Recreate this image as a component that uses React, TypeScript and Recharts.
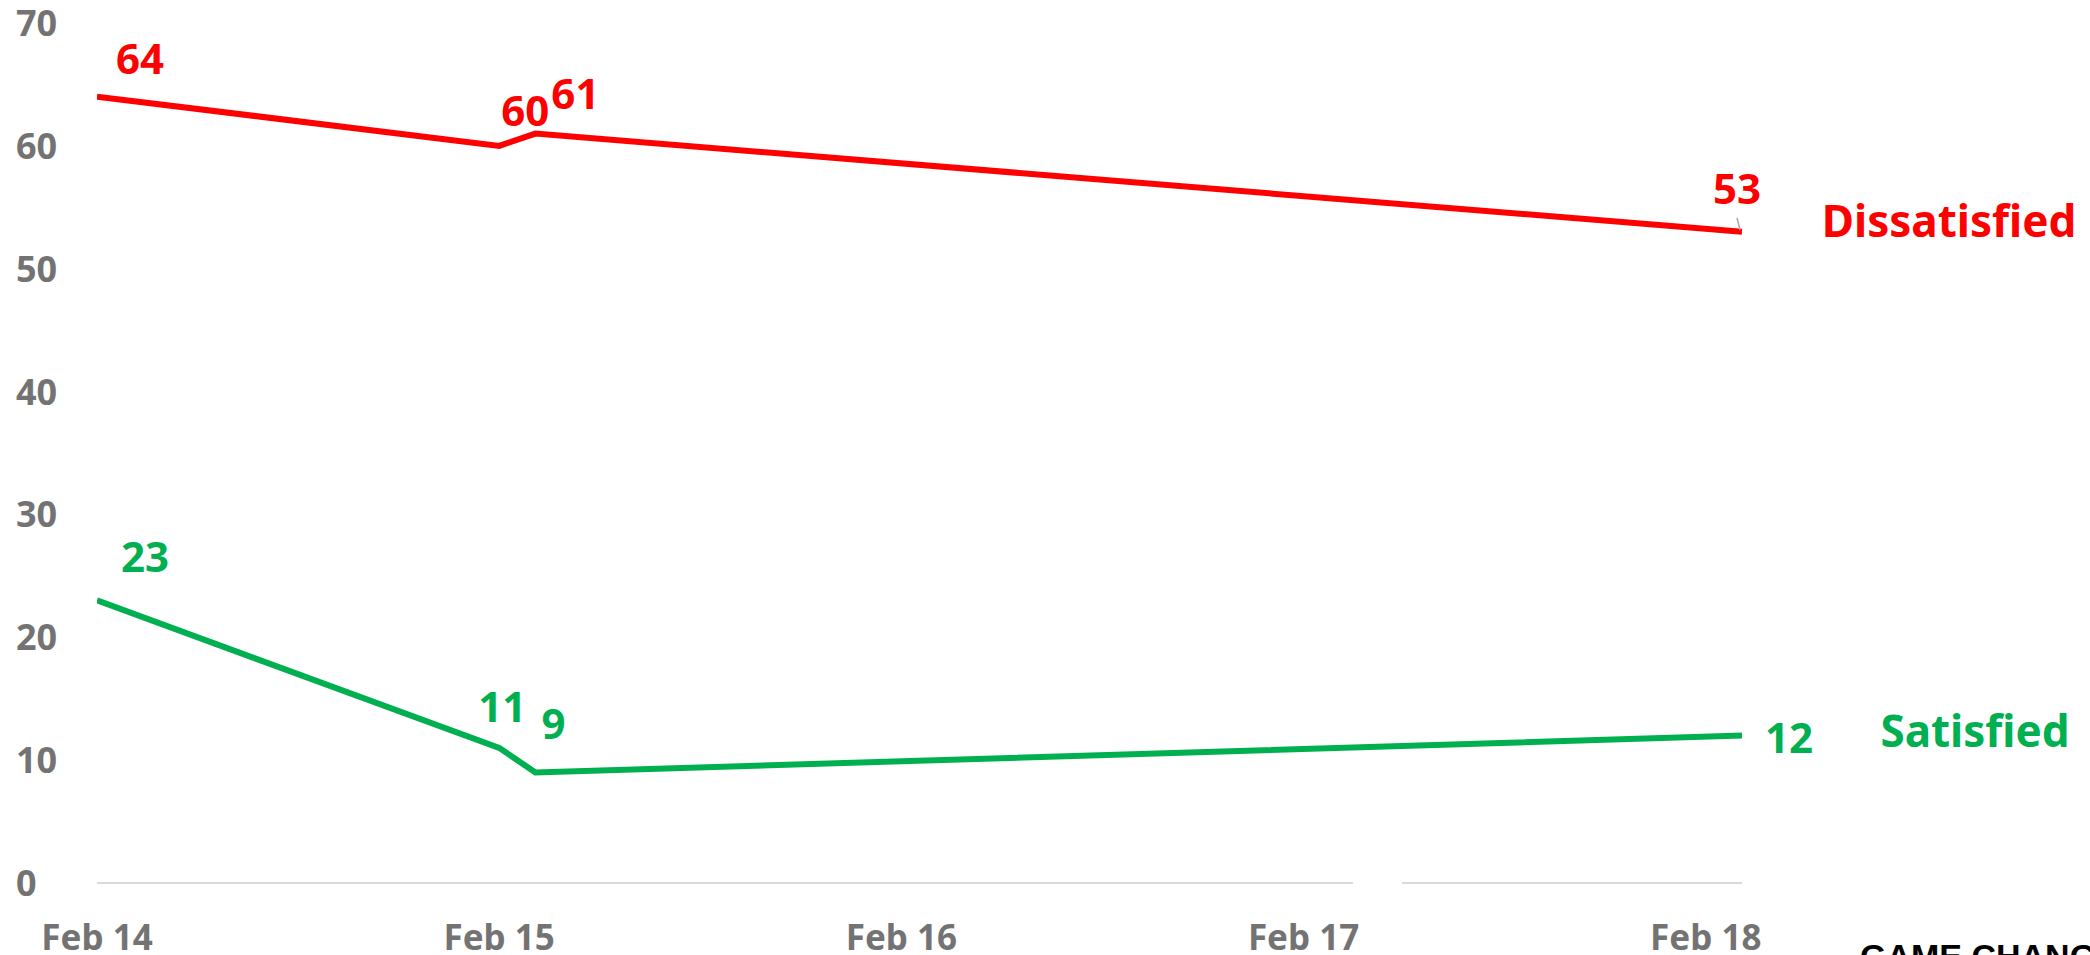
import React from 'react';
import { LineChart, Line, XAxis, YAxis, ReferenceLine, LabelList } from 'recharts';

// ---- data ----
const dayOffsets = [0, 1, 1.09, 4.09]; // days since Feb 14
const dissatisfied = [64, 60, 61, 53];
const satisfied = [23, 11, 9, 12];
const xTicks = [0, 1, 2, 3, 4];
const xTickLabels = ['Feb 14', 'Feb 15', 'Feb 16', 'Feb 17', 'Feb 18'];
const yTicks = [0, 10, 20, 30, 40, 50, 60, 70];
const seriesNames = ['Dissatisfied', 'Satisfied'];
const xDomain = [0, 4.09];
const baselineGap = [3.123, 3.245];

const data = dayOffsets.map((d, i) => ({ d, dis: dissatisfied[i], sat: satisfied[i] }));

// ---- styles ----
const RED = '#FF0000';
const GREEN = '#00B050';
const GRAY = '#737373';
const FONT = '"Noto Sans", "Open Sans", sans-serif';
const disLabelOffsets = [[43, -38], [26, -35], [40, -40], [-5, -43]];
const satLabelOffsets = [[48, -43], [3, -41], [18, -48], [47, 2]];
const disNameOffset = [207, 5];
const satNameOffset = [233, 11];

const makeLabel = (color: string, offsets: number[][], name: string, nameOff: number[], leader: boolean) => (p: any) => {
  const { x, y, value, index } = p;
  const off = offsets[index] || [0, -30];
  const isLast = index === dayOffsets.length - 1;
  return (
    <g>
      <text x={x + off[0]} y={y + off[1] + 15} textAnchor="middle" fill={color}
        style={{ fontFamily: FONT, fontWeight: 700, fontSize: 42 }}>{value}</text>
      {isLast && leader ? (
        <line x1={x - 5} y1={y - 14} x2={x - 2} y2={y - 2} stroke="#A6A6A6" strokeWidth={1.5} />
      ) : null}
      {isLast ? (
        <text x={x + nameOff[0]} y={y + nameOff[1]} textAnchor="middle" fill={color}
          style={{ fontFamily: FONT, fontWeight: 700, fontSize: 44 }}>{name}</text>
      ) : null}
    </g>
  );
};

const YTick = (p: any) => (
  <text x={16} y={p.y + 13} textAnchor="start" fill={GRAY}
    style={{ fontFamily: FONT, fontWeight: 700, fontSize: 36 }}>{p.payload.value}</text>
);

const XTick = (p: any) => {
  const i = xTicks.indexOf(p.payload.value);
  return (
    <text x={p.x} y={950} textAnchor="middle" fill={GRAY}
      style={{ fontFamily: FONT, fontWeight: 700, fontSize: 35 }}>{xTickLabels[i]}</text>
  );
};

export default function App() {
  return (
    <div style={{ position: 'absolute', left: 0, top: 0, width: 2090, height: 955, overflow: 'hidden', background: '#fff' }}>
      <LineChart width={2090} height={955} data={data} margin={{ top: 23, right: 348, bottom: 0, left: 0 }}>
        <XAxis dataKey="d" type="number" domain={xDomain} ticks={xTicks} axisLine={false} tickLine={false}
          height={72} tick={<XTick />} interval={0} allowDataOverflow />
        <YAxis type="number" domain={[0, 70]} ticks={yTicks} axisLine={false} tickLine={false}
          width={97} tick={<YTick />} interval={0} />
        <ReferenceLine segment={[{ x: xDomain[0], y: 0 }, { x: baselineGap[0], y: 0 }]} stroke="#D9D9D9" strokeWidth={2} />
        <ReferenceLine segment={[{ x: baselineGap[1], y: 0 }, { x: xDomain[1], y: 0 }]} stroke="#D9D9D9" strokeWidth={2} />
        <Line type="linear" dataKey="dis" stroke={RED} strokeWidth={6} dot={false} isAnimationActive={false}>
          <LabelList dataKey="dis" content={makeLabel(RED, disLabelOffsets, seriesNames[0], disNameOffset, true)} />
        </Line>
        <Line type="linear" dataKey="sat" stroke={GREEN} strokeWidth={6} dot={false} isAnimationActive={false}>
          <LabelList dataKey="sat" content={makeLabel(GREEN, satLabelOffsets, seriesNames[1], satNameOffset, false)} />
        </Line>
      </LineChart>
      <div style={{ position: 'absolute', left: 1860, top: 936, fontFamily: '"Liberation Sans", Arial, sans-serif', fontWeight: 700, fontSize: 34, color: '#000', whiteSpace: 'nowrap', lineHeight: '40px' }}>
        GAME CHANGERS
      </div>
    </div>
  );
}
